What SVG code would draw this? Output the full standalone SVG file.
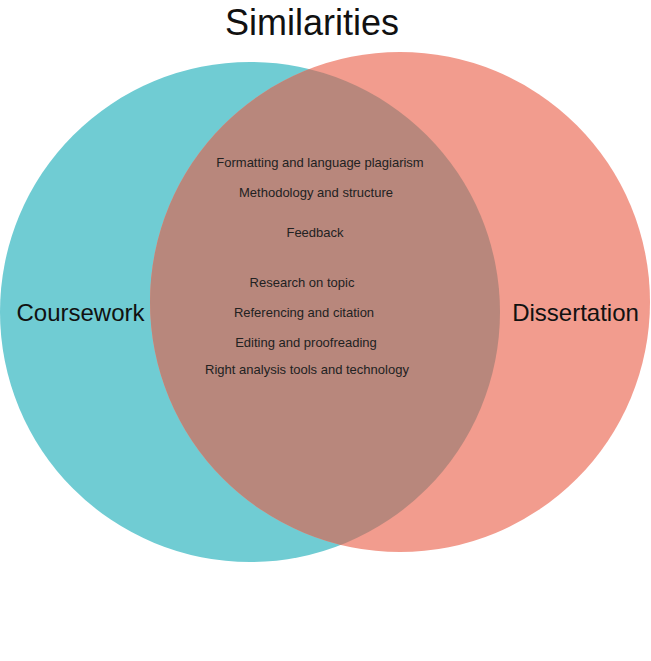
<svg xmlns="http://www.w3.org/2000/svg" width="651" height="661" viewBox="0 0 651 661">
<style>
.lbl{font-family:"Liberation Sans",Arial,sans-serif;fill:#111;text-anchor:middle}
.item{font-family:"Liberation Sans",Arial,sans-serif;font-size:13px;fill:#222;text-anchor:middle}
</style>
<defs>
<clipPath id="clipL"><circle cx="250" cy="312" r="250"/></clipPath>
</defs>
<rect width="651" height="661" fill="#fff"/>
<text class="lbl" x="312" y="35" font-size="36">Similarities</text>
<g id="coursework">
<circle cx="250" cy="312" r="250" fill="#70ccd3"/>
</g>
<g id="dissertation">
<circle cx="400" cy="302" r="250" fill="#f29c8e"/>
</g>
<g id="overlap">
<circle cx="400" cy="302" r="250" fill="#b8877c" clip-path="url(#clipL)"/>
</g>
<g id="labels">
<text class="lbl" x="80.5" y="321" font-size="24">Coursework</text>
<text class="lbl" x="575.5" y="321" font-size="24">Dissertation</text>
</g>
<g id="items">
<text class="item" x="320" y="167">Formatting and language plagiarism</text>
<text class="item" x="316" y="197">Methodology and structure</text>
<text class="item" x="315" y="237">Feedback</text>
<text class="item" x="302" y="287">Research on topic</text>
<text class="item" x="304" y="317">Referencing and citation</text>
<text class="item" x="306" y="347">Editing and proofreading</text>
<text class="item" x="307" y="374">Right analysis tools and technology</text>
</g>
<g id="connectors"/>
</svg>
